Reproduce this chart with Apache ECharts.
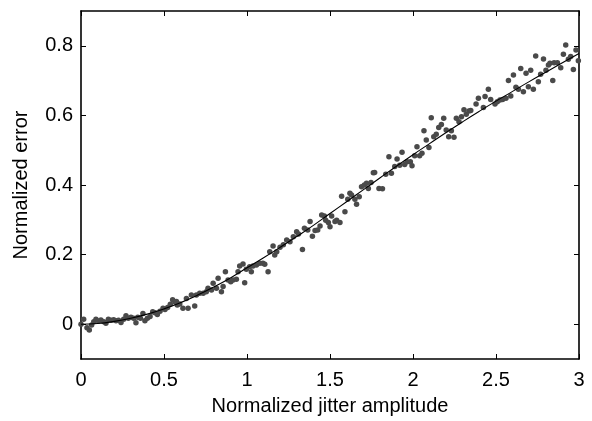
<!DOCTYPE html>
<html>
<head>
<meta charset="utf-8">
<script src="https://cdn.jsdelivr.net/npm/echarts@6/dist/echarts.min.js"></script>
<style>html,body{margin:0;padding:0;background:#fff}#c{width:592px;height:421px}</style>
</head>
<body>
<div id="c"></div>
<script>
var xTicks = [0, 0.5, 1, 1.5, 2, 2.5, 3];
var yTicks = [0, 0.2, 0.4, 0.6, 0.8];
var xTitle = 'Normalized jitter amplitude';
var yTitle = 'Normalized error';

var fitX = [0,0.1,0.2,0.3,0.4,0.5,0.6,0.7,0.8,0.9,1.0,1.1,1.2,1.3,1.4,1.5,1.6,1.7,1.8,1.9,2.0,2.1,2.2,2.3,2.4,2.5,2.6,2.7,2.8,2.9,3.0];
var fitY = [0,0.002,0.008,0.017,0.029,0.044,0.062,0.083,0.107,0.133,0.162,0.191,0.221,0.252,0.284,0.318,0.352,0.386,0.420,0.454,0.487,0.519,0.551,0.582,0.612,0.641,0.669,0.697,0.724,0.751,0.778];

var measX = [0.00,0.016,0.036,0.05,0.064,0.077,0.09,0.105,0.12,0.137,0.15,0.165,0.181,0.197,0.211,0.226,0.241,0.257,0.271,0.285,0.301,0.317,0.331,0.342,0.358,0.373,0.385,0.4,0.416,0.432,0.446,0.46,0.476,0.494,0.506,0.522,0.538,0.552,0.566,0.58,
0.575,0.595,0.614,0.635,0.645,0.665,0.685,0.695,0.715,0.736,0.755,0.765,0.786,0.796,0.816,0.826,0.846,0.856,0.87,0.886,0.902,0.916,0.936,0.946,0.956,0.976,0.986,0.996,1.016,1.026,1.036,1.057,1.077,1.096,1.107,1.127,1.137,1.157,1.167,
1.179,1.199,1.219,1.239,1.259,1.279,1.299,1.31,1.334,1.346,1.366,1.38,1.394,1.41,1.426,1.44,1.45,1.466,1.474,1.49,1.5,1.51,1.53,1.54,1.56,1.57,1.59,1.607,1.62,1.63,1.65,1.66,1.676,1.69,1.707,1.72,1.731,1.747,1.761,
1.769,1.795,1.816,1.836,1.855,1.87,1.89,1.904,1.92,1.934,1.95,1.964,1.984,1.994,2.01,2.024,2.04,2.054,2.066,2.08,2.096,2.11,2.125,2.14,2.155,2.171,2.185,2.2,2.215,2.231,2.247,2.261,2.277,2.292,2.307,2.321,2.337,
2.348,2.38,2.394,2.424,2.434,2.454,2.468,2.494,2.508,2.524,2.54,2.56,2.575,2.589,2.605,2.62,2.635,2.649,2.665,2.681,2.695,2.709,2.725,2.739,2.755,2.769,2.786,2.801,2.816,2.825,2.842,2.85,2.87,2.89,2.906,2.92,2.936,2.95,2.966,2.982,2.996];
var measY = [0.00,0.014,-0.01,-0.017,-0.002,0.007,0.014,0.009,0.012,0.007,0.003,0.014,0.011,0.013,0.01,0.011,0.005,0.014,0.024,0.017,0.02,0.017,0.004,0.02,0.017,0.031,0.01,0.017,0.022,0.036,0.033,0.028,0.037,0.046,0.042,0.048,0.057,0.07,0.064,0.055,
0.065,0.058,0.046,0.074,0.046,0.084,0.052,0.084,0.089,0.089,0.093,0.103,0.098,0.118,0.103,0.132,0.093,0.108,0.151,0.127,0.122,0.127,0.129,0.151,0.167,0.173,0.119,0.158,0.165,0.151,0.167,0.17,0.175,0.175,0.172,0.151,0.208,0.225,0.199,
0.208,0.221,0.228,0.242,0.237,0.251,0.266,0.259,0.215,0.276,0.271,0.295,0.253,0.269,0.271,0.282,0.314,0.311,0.299,0.292,0.28,0.311,0.295,0.299,0.292,0.368,0.323,0.359,0.376,0.371,0.359,0.345,0.366,0.395,0.4,0.405,0.39,0.407,0.435,
0.436,0.39,0.389,0.431,0.481,0.434,0.453,0.475,0.457,0.494,0.459,0.467,0.467,0.455,0.484,0.51,0.484,0.491,0.556,0.529,0.508,0.593,0.539,0.546,0.565,0.574,0.592,0.558,0.539,0.556,0.537,0.592,0.582,0.596,0.616,0.603,0.613,
0.614,0.633,0.649,0.623,0.654,0.675,0.646,0.633,0.639,0.644,0.646,0.649,0.7,0.656,0.716,0.681,0.675,0.735,0.668,0.721,0.682,0.73,0.675,0.771,0.697,0.718,0.762,0.73,0.745,0.75,0.7,0.751,0.751,0.737,0.776,0.802,0.761,0.769,0.732,0.788,0.757];

var points = measX.map(function (x, i) { return [x, measY[i]]; });
var fit = fitX.map(function (x, i) { return [x, fitY[i]]; });

var font = 'Liberation Sans, Arial, Helvetica, sans-serif';
var fs = 20;
var chart = echarts.init(document.getElementById('c'), null, {renderer: 'canvas'});
var lineStyle = {color: '#000', width: 1.6};
chart.setOption({
  animation: false,
  backgroundColor: '#fff',
  grid: {left: 81, right: 13, top: 11, bottom: 62, containLabel: false},
  xAxis: [{
    type: 'value', min: 0, max: 3, interval: 0.5, position: 'bottom',
    name: xTitle, nameLocation: 'middle', nameGap: 37,
    nameTextStyle: {color: '#000', fontSize: fs, fontFamily: font},
    axisLine: {show: true, onZero: false, lineStyle: lineStyle},
    axisTick: {show: true, inside: true, length: 5, lineStyle: {color: '#000', width: 1}},
    axisLabel: {color: '#000', fontSize: fs, fontFamily: font, margin: 11,
      formatter: function (v) { return xTicks.indexOf(v) >= 0 ? String(v) : ''; }},
    splitLine: {show: false}
  }, {
    type: 'value', min: 0, max: 3, interval: 0.5, position: 'top',
    axisLine: {show: true, onZero: false, lineStyle: lineStyle},
    axisTick: {show: true, inside: true, length: 5, lineStyle: {color: '#000', width: 1}},
    axisLabel: {show: false}, splitLine: {show: false}
  }],
  yAxis: [{
    type: 'value', min: -0.1, max: 0.9, position: 'left',
    name: yTitle, nameLocation: 'middle', nameGap: 50, nameRotate: 90,
    nameTextStyle: {color: '#000', fontSize: fs, fontFamily: font},
    axisLine: {show: true, onZero: false, lineStyle: lineStyle},
    axisTick: {show: true, inside: true, length: 5, customValues: yTicks, lineStyle: {color: '#000', width: 1}},
    axisLabel: {color: '#000', fontSize: fs, fontFamily: font, margin: 8, customValues: yTicks},
    splitLine: {show: false}
  }, {
    type: 'value', min: -0.1, max: 0.9, position: 'right',
    axisLine: {show: true, onZero: false, lineStyle: lineStyle},
    axisTick: {show: true, inside: true, length: 5, customValues: yTicks, lineStyle: {color: '#000', width: 1}},
    axisLabel: {show: false, customValues: yTicks}, splitLine: {show: false}
  }],
  series: [{
    type: 'scatter', xAxisIndex: 0, yAxisIndex: 0, data: points,
    symbol: 'circle', symbolSize: 5.5, itemStyle: {color: '#4a4a4a', opacity: 1}, z: 2
  }, {
    type: 'line', xAxisIndex: 0, yAxisIndex: 0, data: fit, smooth: true,
    showSymbol: false, symbol: 'none', lineStyle: {color: '#000', width: 1.1}, z: 3
  }]
});
</script>
</body>
</html>
